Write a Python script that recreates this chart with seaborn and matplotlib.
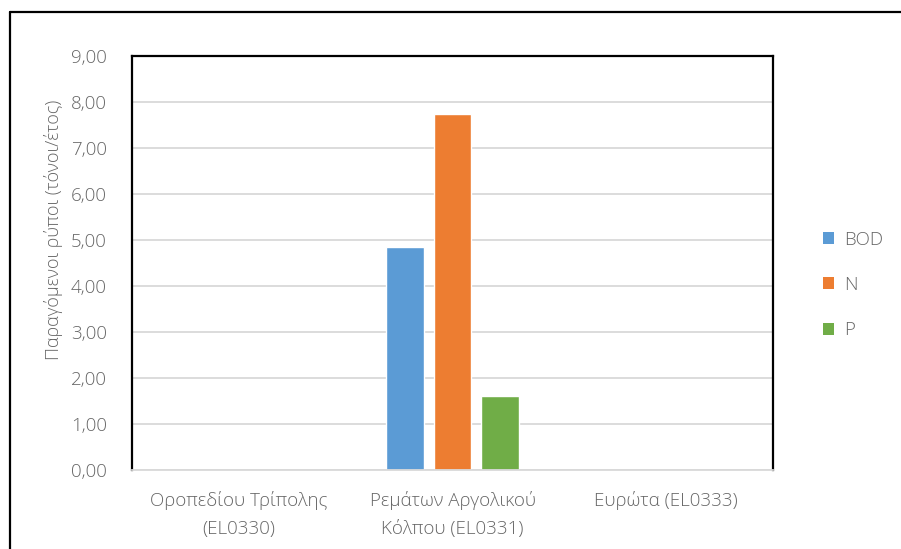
#!/usr/bin/env python3
"""Grouped bar chart: pollutant load per water body (BOD, N, P)."""

import matplotlib
matplotlib.use("Agg")
import matplotlib.pyplot as plt
from matplotlib.lines import Line2D
from matplotlib.patches import Patch
from matplotlib.ticker import FuncFormatter, MultipleLocator
import pandas as pd
import seaborn as sns

# --- Data ---
categories = ["Οροπεδίου Τρίπολης\n(EL0330)",
              "Ρεμάτων Αργολικού\nΚόλπου (EL0331)",
              "Ευρώτα (EL0333)"]
series = ["BOD", "N", "P"]
bod = [0.0, 4.84, 0.0]
nitrogen = [0.0, 7.75, 0.0]
phosphorus = [0.0, 1.61, 0.0]
colors = ["#5B9BD5", "#ED7D31", "#70AD47"]

ylabel = "Παραγόμενοι ρύποι (τόνοι/έτος)"
text_color = "#666666"
grid_color = "#D9D9D9"
fs = 13.5

df = pd.DataFrame({
    "category": categories * 3,
    "series": [s for s in series for _ in categories],
    "value": bod + nitrogen + phosphorus,
})

sns.set_style("white")
plt.rcParams["font.family"] = ["Open Sans", "DejaVu Sans"]
plt.rcParams["font.weight"] = "light"
plt.rcParams["axes.labelweight"] = "light"

W, H = 901, 549
fig = plt.figure(figsize=(W / 100, H / 100), dpi=100)
ax = fig.add_axes([132 / W, (H - 470) / H, 641 / W, 414 / H])

sns.barplot(data=df, x="category", y="value", hue="series", hue_order=series,
            palette=colors, width=0.665, gap=0.2, saturation=1,
            legend=False, ax=ax)

ax.set_ylim(0, 9)
ax.yaxis.set_major_locator(MultipleLocator(1))
ax.yaxis.set_major_formatter(FuncFormatter(lambda v, _: f"{v:.2f}".replace(".", ",")))
ax.grid(axis="y", color=grid_color, linewidth=1.3)
ax.set_axisbelow(True)
ax.set_xlabel("")
ax.set_ylabel(ylabel, fontsize=fs - 0.5, color=text_color, fontweight="light")
ax.yaxis.set_label_coords(-0.108, 0.58)
ax.tick_params(axis="both", length=0, labelsize=fs, labelcolor=text_color)
ax.tick_params(axis="y", pad=18)
ax.tick_params(axis="x", pad=15)
for lbl in ax.get_xticklabels():
    lbl.set_linespacing(1.75)

for side in ("left", "top", "right"):
    ax.spines[side].set_color("black")
    ax.spines[side].set_linewidth(1.6)
ax.spines["bottom"].set_color(grid_color)
ax.spines["bottom"].set_linewidth(1.3)

handles = [Patch(facecolor=c, edgecolor="none") for c in colors]
leg = fig.legend(handles, series, loc="center left",
                 bbox_to_anchor=(806 / W, 1 - 285 / H), frameon=False,
                 handlelength=0.6, handleheight=0.6, handletextpad=0.55,
                 labelspacing=1.45, fontsize=fs)
for t in leg.get_texts():
    t.set_color(text_color)

# outer chart border (only left and top edges are in frame)
fig.add_artist(Line2D([10 / W, 10 / W], [0, 1 - 12 / H], transform=fig.transFigure,
                      color="black", linewidth=1.6))
fig.add_artist(Line2D([10 / W, 1], [1 - 12 / H, 1 - 12 / H], transform=fig.transFigure,
                      color="black", linewidth=1.6))

fig.savefig("out.png", dpi=100)
